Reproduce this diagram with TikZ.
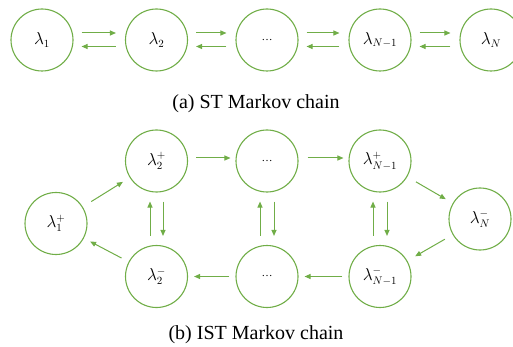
\documentclass[tikz,border=0pt]{standalone}
\usepackage{fontspec}
\newfontfamily\capfont{Liberation Serif}
\usetikzlibrary{arrows.meta}
\definecolor{mgreen}{RGB}{112,173,71}
\newcommand{\mydots}{{\capfont\fontsize{11}{12}\selectfont\char"2026}}
\begin{document}
\begin{tikzpicture}[x=1pt,y=-1pt,
  state/.style={circle,draw=mgreen,line width=1.1pt,minimum size=62pt,inner sep=0pt,
    font=\fontsize{16}{18}\selectfont},
  arr/.style={draw=mgreen,line width=1pt,-{Triangle[length=6pt,width=5pt]}},
  captext/.style={font=\capfont\fontsize{20}{22}\selectfont,inner sep=0pt}]
\useasboundingbox (0,0) rectangle (513,347);
\begin{scope}
\clip (0,0) rectangle (513,347);
% top chain
\node[state] (a1) at (42,40) {$\lambda_1$};
\node[state] (a2) at (156.5,40) {$\lambda_2$};
\node[state] (a3) at (267,40) {\mydots};
\node[state] (a4) at (380,40) {$\lambda_{N-1}$};
\node[state] (a5) at (491,40) {$\lambda_N$};
\end{scope}
\foreach \p/\q in {a1/a2,a2/a3,a3/a4,a4/a5}{
  \draw[arr] ([xshift=8pt,yshift=7pt]\p.east) -- ([xshift=-9pt,yshift=7pt]\q.west);
  \draw[arr] ([xshift=-9pt,yshift=-6.5pt]\q.west) -- ([xshift=8pt,yshift=-6.5pt]\p.east);
}
\node[captext] (capa) at (256,104) {(a) ST Markov chain};
% bottom chain
\node[state] (p1) at (56,223.5) {$\lambda_1^+$};
\node[state] (p2) at (156.5,161) {$\lambda_2^+$};
\node[state] (p3) at (267,161) {\mydots};
\node[state] (p4) at (380,161) {$\lambda_{N-1}^+$};
\node[state] (m5) at (480,219) {$\lambda_N^-$};
\node[state] (m2) at (156.5,276.5) {$\lambda_2^-$};
\node[state] (m3) at (267,276.5) {\mydots};
\node[state] (m4) at (380,276.5) {$\lambda_{N-1}^-$};
\draw[arr,shorten >=8pt,shorten <=10pt] (p1) -- (p2);
\draw[arr] ([xshift=8pt,yshift=3pt]p2.east) -- ([xshift=-5pt,yshift=3pt]p3.west);
\draw[arr] ([xshift=9pt,yshift=3pt]p3.east) -- ([xshift=-5pt,yshift=3pt]p4.west);
\draw[arr,shorten >=8pt,shorten <=10pt] (p4) -- (m5);
\draw[arr,shorten >=9pt,shorten <=9pt] (m5) -- (m4);
\draw[arr] ([xshift=-6pt]m4.west) -- ([xshift=6pt]m3.east);
\draw[arr] ([xshift=-6pt]m3.west) -- ([xshift=6pt]m2.east);
\draw[arr,shorten >=7pt,shorten <=8pt] (m2) -- (p1);
\foreach \t/\b/\d in {p2/m2/6.5,p3/m3/7,p4/m4/7}{
  \draw[arr] ([xshift=-\d pt,yshift=9pt]\b.north) -- ([xshift=-\d pt,yshift=-9pt]\t.south);
  \draw[arr] ([xshift=\d pt,yshift=-9pt]\t.south) -- ([xshift=\d pt,yshift=9pt]\b.north);
}
\node[captext] (capb) at (256,335) {(b) IST Markov chain};
\end{tikzpicture}
\end{document}
